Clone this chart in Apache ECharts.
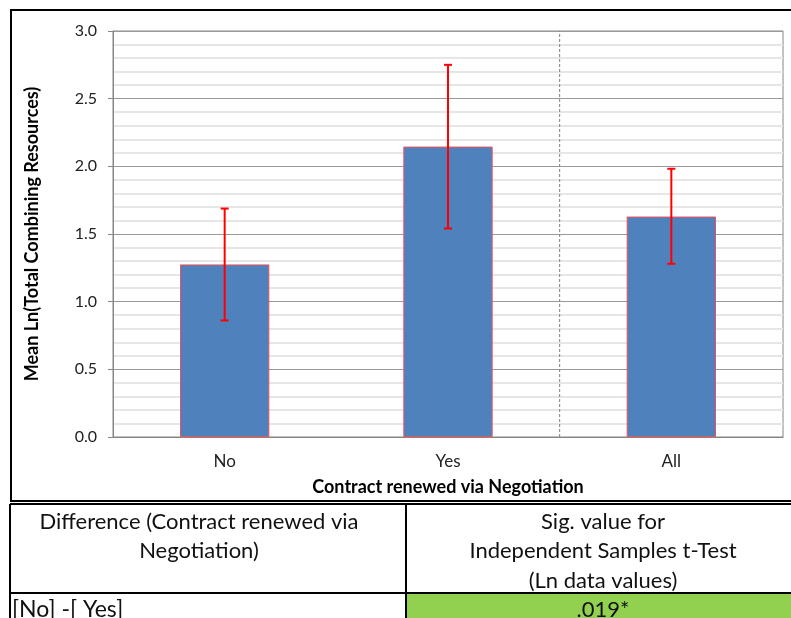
<!DOCTYPE html>
<html>
<head>
<meta charset="utf-8">
<script src="https://cdn.jsdelivr.net/npm/echarts@6/dist/echarts.min.js"></script>
<style>
  html, body { margin: 0; padding: 0; background: #fff; }
  #chart { width: 791px; height: 618px; }
</style>
</head>
<body>
<div id="chart"></div>
<script>
// values
const categories = ['No', 'Yes', 'All'];
const means = [1.275, 2.146, 1.629];
const errLow = [0.861, 1.541, 1.280];
const errHigh = [1.688, 2.750, 1.982];

// divider between the two groups and the "All" column (category boundary)
const dividerAt = 2;

const tableHeaders = [
  'Difference (Contract renewed via\nNegotiation)',
  'Sig. value for\nIndependent Samples t-Test\n(Ln data values)'
];
const tableRows = [['[No] -[ Yes]', '.019*']];

const FONT = 'Lato, "Open Sans", sans-serif';

const chart = echarts.init(document.getElementById('chart'));

function errorBar (params, api) {
  const x = api.value(0);
  const top = api.coord([x, api.value(2)]);
  const bottom = api.coord([x, api.value(1)]);
  const half = 4;
  const style = { stroke: '#ff0000', lineWidth: 2 };
  return {
    type: 'group',
    children: [
      { type: 'line', shape: { x1: top[0], y1: top[1], x2: bottom[0], y2: bottom[1] }, style: style },
      { type: 'line', shape: { x1: top[0] - half, y1: top[1], x2: top[0] + half, y2: top[1] }, style: style },
      { type: 'line', shape: { x1: bottom[0] - half, y1: bottom[1], x2: bottom[0] + half, y2: bottom[1] }, style: style }
    ]
  };
}

function tableGraphics () {
  const line = (x1, y1, x2, y2) => ({
    type: 'line',
    shape: { x1: x1, y1: y1, x2: x2, y2: y2 },
    style: { stroke: '#000', lineWidth: 2 }
  });
  const text = (t, x, y, align, vAlign, size) => ({
    type: 'text',
    x: x,
    y: y,
    style: {
      text: t,
      fontFamily: FONT,
      fontSize: size,
      lineHeight: 29.5,
      fill: '#111',
      align: align,
      verticalAlign: vAlign
    }
  });

  return [
    // outer chart frame
    {
      type: 'rect',
      shape: { x: 11, y: 10, width: 800, height: 491 },
      style: { fill: null, stroke: '#000', lineWidth: 2 }
    },
    { type: 'rect', shape: { x: 407, y: 594, width: 384, height: 30 }, style: { fill: '#92d050' } },
    line(10, 504, 791, 504),
    line(10, 504, 10, 618),
    line(406, 504, 406, 618),
    line(10, 593, 791, 593),
    text(tableHeaders[0], 199, 507, 'center', 'top', 22),
    text(tableHeaders[1], 603, 507, 'center', 'top', 22),
    text(tableRows[0][0], 12, 610, 'left', 'middle', 23),
    text(tableRows[0][1], 603, 610, 'center', 'middle', 22)
  ];
}

const option = {
  animation: false,
  backgroundColor: '#fff',
  textStyle: { fontFamily: FONT },
  grid: {
    left: 113,
    top: 31,
    width: 670,
    height: 406,
    show: true,
    borderColor: '#868686',
    borderWidth: 1
  },
  xAxis: [
    {
      type: 'category',
      data: categories,
      name: 'Contract renewed via Negotiation',
      nameLocation: 'middle',
      nameGap: 41,
      nameTextStyle: { fontFamily: FONT, fontSize: 18, fontWeight: 'bold', color: '#000' },
      axisLine: { lineStyle: { color: '#868686' } },
      axisTick: { length: 6, lineStyle: { color: '#868686' } },
      axisLabel: { fontFamily: FONT, fontSize: 17, color: '#222', margin: 16 }
    },
    {
      type: 'value',
      min: 0,
      max: 3,
      show: false
    }
  ],
  yAxis: {
    type: 'value',
    min: 0,
    max: 3,
    interval: 0.5,
    name: 'Mean Ln(Total Combining Resources)',
    nameLocation: 'middle',
    nameGap: 72,
    nameTextStyle: { fontFamily: FONT, fontSize: 18, fontWeight: 'bold', color: '#000' },
    axisLine: { show: true, lineStyle: { color: '#868686' } },
    axisTick: { show: true, length: 5, lineStyle: { color: '#868686' } },
    axisLabel: {
      fontFamily: FONT,
      fontSize: 16,
      color: '#222',
      margin: 16,
      formatter: v => v.toFixed(1)
    },
    splitLine: { lineStyle: { color: '#9a9a9a' } },
    minorTick: { show: false, splitNumber: 5 },
    minorSplitLine: { show: true, lineStyle: { color: '#e6e6e6', width: 2 } }
  },
  series: [
    {
      type: 'bar',
      data: means,
      barWidth: '40%',
      itemStyle: { color: '#4f81bd', borderColor: '#f0505a', borderWidth: 1 },
      z: 2
    },
    {
      type: 'custom',
      renderItem: errorBar,
      data: categories.map((c, i) => [i, errLow[i], errHigh[i]]),
      z: 3
    },
    {
      type: 'line',
      xAxisIndex: 1,
      data: [[dividerAt, 0], [dividerAt, 3]],
      symbol: 'none',
      lineStyle: { color: '#7f7f7f', width: 1, type: [3, 2] },
      z: 1
    }
  ],
  graphic: tableGraphics()
};

chart.setOption(option);
</script>
</body>
</html>
